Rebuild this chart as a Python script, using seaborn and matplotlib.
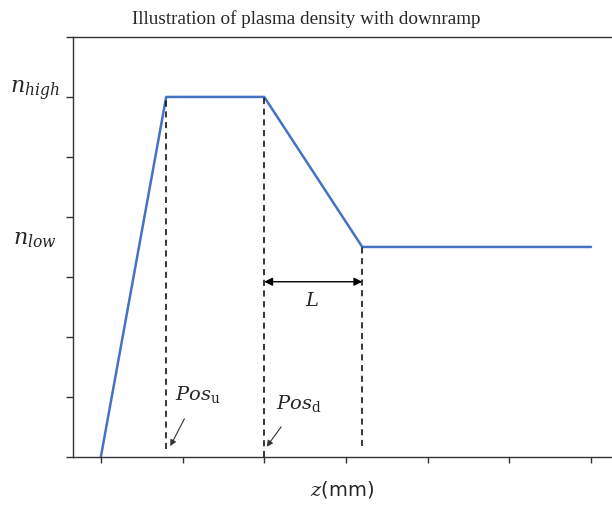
import matplotlib
matplotlib.use("Agg")
import matplotlib.pyplot as plt
import seaborn as sns
import pandas as pd

# Density profile: rise, plateau, downramp, low plateau
z_points = [0.0, 0.8, 2.0, 3.2, 6.0]
density = [0.0, 6.0, 6.0, 3.5, 3.5]
n_high = 6.0
n_low = 3.5
pos_u = 0.8
pos_d = 2.0
ramp_end = 3.2
x_ticks = [0, 1, 2, 3, 4, 5, 6]
y_ticks = [0, 1, 2, 3, 4, 5, 6, 7]

sns.set_style("ticks")
plt.rcParams["mathtext.fontset"] = "dejavuserif"

fig = plt.figure(figsize=(6.12, 5.06), dpi=100)
ax = fig.add_axes([0.119, 0.095, 0.881, 0.830])

df = pd.DataFrame({"z": z_points, "n": density})
sns.lineplot(data=df, x="z", y="n", ax=ax, color="#4472C4", linewidth=1.8, sort=False)

# Vertical dashed markers
dash_kw = dict(color="black", linestyle=(0, (4, 3)), linewidth=1.1)
ax.plot([pos_u, pos_u], [0.13, n_high], **dash_kw)
ax.plot([pos_d, pos_d], [0.0, n_high], **dash_kw)
ax.plot([ramp_end, ramp_end], [0.18, n_low], **dash_kw)

# Downramp length arrow
ax.annotate("", xy=(pos_d, 2.92), xytext=(ramp_end, 2.92),
            arrowprops=dict(arrowstyle="<|-|>", color="black", lw=1.0,
                            shrinkA=0, shrinkB=0, mutation_scale=12))
ax.text((pos_d + ramp_end) / 2 - 0.02, 2.62, "$L$", ha="center", va="center", fontsize=14)

# Position labels with pointers
ax.annotate(r"$Pos_{\mathrm{u}}$", xy=(pos_u + 0.05, 0.18), xytext=(1.18, 1.05),
            ha="center", va="center", fontsize=14,
            arrowprops=dict(arrowstyle="-|>", color="#333333", lw=0.8,
                            shrinkA=9, shrinkB=0, mutation_scale=9))
ax.annotate(r"$Pos_{\mathrm{d}}$", xy=(pos_d + 0.03, 0.17), xytext=(2.42, 0.9),
            ha="center", va="center", fontsize=14,
            arrowprops=dict(arrowstyle="-|>", color="#333333", lw=0.8,
                            shrinkA=9, shrinkB=0, mutation_scale=9))

ax.set_xlim(-0.343, 6.257)
ax.set_ylim(0, 7)
ax.set_xticks(x_ticks)
ax.set_yticks(y_ticks)
ax.set_xticklabels([])
ax.set_yticklabels([])
ax.tick_params(axis="x", direction="out", length=4, width=1, color="#333333")
ax.tick_params(axis="y", direction="out", length=5, width=1, color="#333333")

for side in ["left", "bottom", "top"]:
    ax.spines[side].set_color("#333333")
    ax.spines[side].set_linewidth(1.0)
ax.spines["right"].set_visible(False)

# Density level labels
ax.text(-0.81, n_high + 0.12, "$n_{high}$", ha="center", va="center", fontsize=16,
        transform=ax.transData, clip_on=False)
ax.text(-0.81, n_low + 0.13, "$n_{low}$", ha="center", va="center", fontsize=16,
        transform=ax.transData, clip_on=False)

ax.set_xlabel("$z$(mm)", fontsize=14, labelpad=8)
ax.set_ylabel("")
fig.text(0.5, 0.963, "Illustration of plasma density with downramp", fontsize=13.8,
         family="Liberation Serif", ha="center", va="center")

fig.savefig("out.png", dpi=100)
